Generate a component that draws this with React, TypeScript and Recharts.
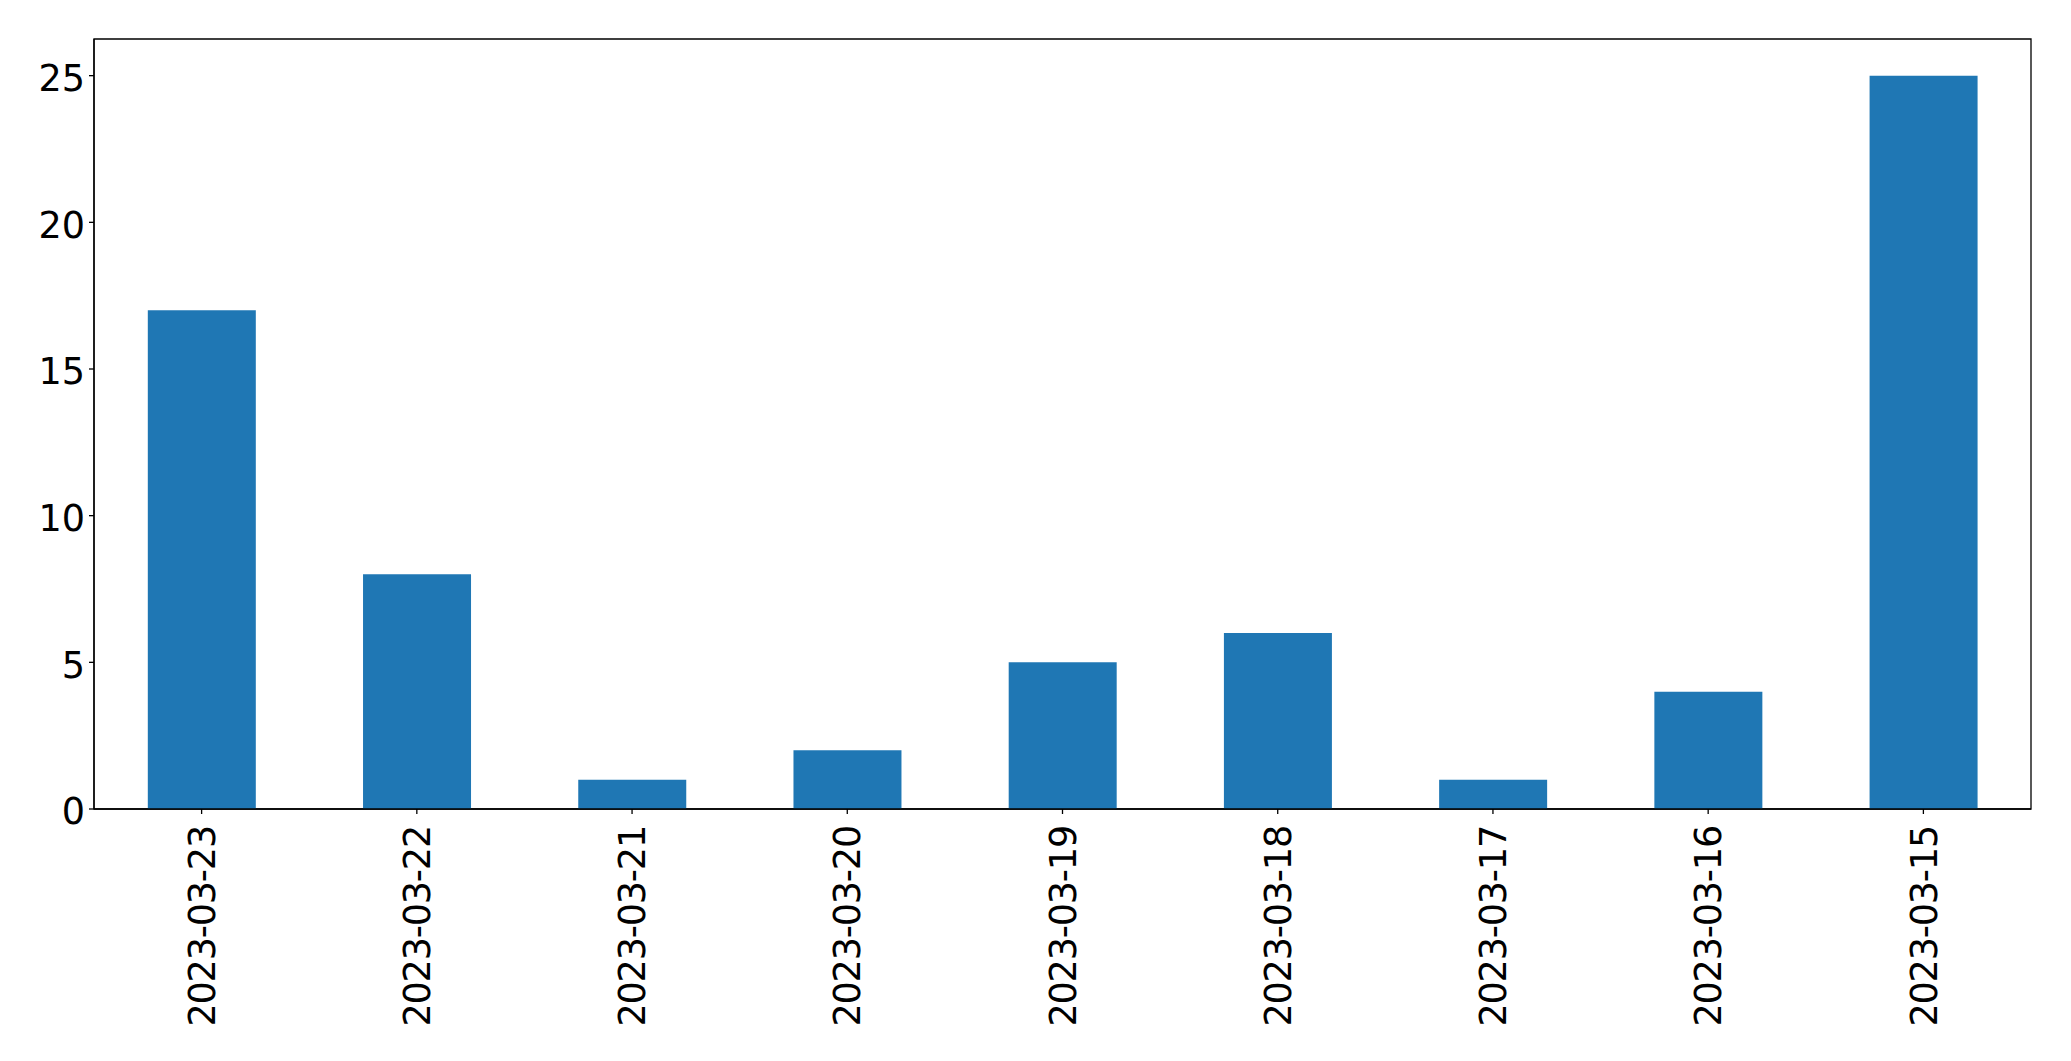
import { BarChart, Bar, XAxis, YAxis, ReferenceArea } from "recharts"

const dates = [
  "2023-03-23",
  "2023-03-22",
  "2023-03-21",
  "2023-03-20",
  "2023-03-19",
  "2023-03-18",
  "2023-03-17",
  "2023-03-16",
  "2023-03-15",
]
const counts = [17, 8, 1, 2, 5, 6, 1, 4, 25]
const yTicks = [0, 5, 10, 15, 20, 25]
const yMax = 26.25

const FONT = "'DejaVu Sans', sans-serif"
const FONT_SIZE = 36.6

// rotated date labels, reading bottom to top
function DateTick(props: any) {
  const { x, y, payload } = props
  return (
    <text
      transform={`translate(${x},${y}) rotate(-90)`}
      textAnchor="end"
      dy="0.36em"
      fontFamily={FONT}
      fontSize={FONT_SIZE}
      letterSpacing={-1.2}
      fill="#000"
    >
      {payload.value}
    </text>
  )
}

function CountTick(props: any) {
  const { x, y, payload } = props
  return (
    <text x={x} y={y} textAnchor="end" dy="0.42em" fontFamily={FONT} fontSize={FONT_SIZE} fill="#000">
      {payload.value}
    </text>
  )
}

export default function App() {
  const chartData = dates.map((d, i) => ({ date: d, count: counts[i] }))

  return (
    <div style={{ position: "absolute", left: 0, top: 0, background: "#fff" }}>
      <BarChart
        width={2071}
        height={1061}
        data={chartData}
        margin={{ top: 39, right: 40, left: 0, bottom: 0 }}
        barCategoryGap="25%"
      >
        <XAxis
          dataKey="date"
          height={252}
          interval={0}
          tick={<DateTick />}
          tickSize={5}
          tickMargin={12}
          axisLine={{ stroke: "#000", strokeWidth: 1.3 }}
          tickLine={{ stroke: "#000", strokeWidth: 1.3 }}
        />
        <YAxis
          width={94}
          domain={[0, yMax]}
          ticks={yTicks}
          tick={<CountTick />}
          tickSize={5}
          tickMargin={4}
          axisLine={{ stroke: "#000", strokeWidth: 1.3 }}
          tickLine={{ stroke: "#000", strokeWidth: 1.3 }}
        />
        <Bar dataKey="count" fill="#1f77b4" isAnimationActive={false} />
        {/* frame round the plot area */}
        <ReferenceArea
          y1={0}
          y2={yMax}
          fill="none"
          fillOpacity={0}
          stroke="#000"
          strokeWidth={1.3}
          ifOverflow="visible"
        />
      </BarChart>
    </div>
  )
}
